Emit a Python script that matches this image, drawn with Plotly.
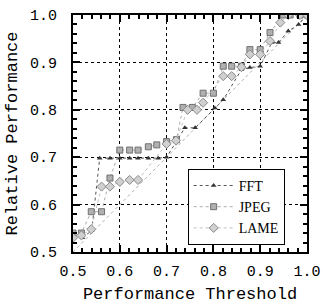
import plotly.graph_objects as go

# ---- data ----
fft_x = [0.52, 0.54, 0.557, 0.579, 0.60, 0.621, 0.639, 0.661, 0.682, 0.70,
         0.739, 0.761, 0.803, 0.821, 0.86, 0.878, 0.90, 0.925, 0.939, 0.96, 0.982, 1.0]
fft_y = [0.53, 0.545, 0.698, 0.698, 0.698, 0.698, 0.698, 0.698, 0.698, 0.70,
         0.762, 0.762, 0.804, 0.821, 0.885, 0.889, 0.892, 0.942, 0.942, 0.966, 0.98, 1.0]

jpeg_x = [0.50, 0.518, 0.539, 0.561, 0.579, 0.60, 0.621, 0.639, 0.661, 0.679, 0.70, 0.721,
          0.735, 0.755, 0.778, 0.80, 0.821, 0.839, 0.86, 0.878, 0.90, 0.921, 0.95, 0.964, 0.985, 1.0]
jpeg_y = [0.54, 0.54, 0.585, 0.585, 0.656, 0.715, 0.715, 0.715, 0.722, 0.726, 0.733, 0.737,
          0.805, 0.805, 0.835, 0.835, 0.892, 0.892, 0.892, 0.927, 0.927, 0.963, 1.0, 1.0, 1.0, 1.0]

lame_x = [0.50, 0.518, 0.539, 0.561, 0.579, 0.60, 0.621, 0.639, 0.70, 0.72,
          0.745, 0.765, 0.778, 0.821, 0.839, 0.86, 0.878, 0.90, 0.921, 0.943, 0.96, 0.985, 1.0]
lame_y = [0.53, 0.535, 0.548, 0.638, 0.638, 0.648, 0.652, 0.652, 0.728, 0.735,
          0.80, 0.80, 0.815, 0.871, 0.871, 0.89, 0.917, 0.917, 0.945, 0.984, 1.0, 1.0, 1.0]

diag = [0.5, 1.0]

x_ticks = [0.5, 0.6, 0.7, 0.8, 0.9, 1.0]
tick_text = ["0.5", "0.6", "0.7", "0.8", "0.9", "1.0"]

mono = "Liberation Mono"

fig = go.Figure()

fig.add_trace(go.Scatter(x=diag, y=diag, mode="lines",
                         line=dict(color="#999999", width=0.8, dash="dot"),
                         showlegend=False, hoverinfo="skip"))

fig.add_trace(go.Scatter(x=fft_x, y=fft_y, mode="lines+markers", name="FFT",
                         line=dict(color="#555555", width=1, dash="dot"),
                         marker=dict(symbol="triangle-up", size=5, color="#333333")))
fig.add_trace(go.Scatter(x=jpeg_x, y=jpeg_y, mode="lines+markers", name="JPEG",
                         line=dict(color="#aaaaaa", width=1, dash="dot"),
                         marker=dict(symbol="square", size=6, color="#b0b0b0",
                                     line=dict(color="#707070", width=1))))
fig.add_trace(go.Scatter(x=lame_x, y=lame_y, mode="lines+markers", name="LAME",
                         line=dict(color="#c0c0c0", width=1, dash="dot"),
                         marker=dict(symbol="diamond", size=7, color="#d0d0d0",
                                     line=dict(color="#8a8a8a", width=1))))

axis_common = dict(
    range=[0.5, 1.0], tickvals=x_ticks, ticktext=tick_text,
    showline=True, linecolor="black", linewidth=2, mirror="allticks",
    ticks="inside", ticklen=7, tickwidth=2, tickcolor="black",
    showgrid=True, gridcolor="black", griddash="dot", gridwidth=1,
    zeroline=False,
    tickfont=dict(family=mono, size=15, color="black"),
    minor=dict(dtick=0.02, ticks="inside", ticklen=4, tickwidth=1.5,
               tickcolor="black", showgrid=False),
)

fig.update_xaxes(**axis_common, ticklabelstandoff=4,
                 title=dict(text="Performance Threshold",
                            font=dict(family=mono, size=17, color="black"),
                            standoff=12))
fig.update_yaxes(**axis_common, ticklabelstandoff=11,
                 title=dict(text="Relative Performance",
                            font=dict(family=mono, size=17, color="black"),
                            standoff=8))

fig.update_layout(
    width=323, height=304,
    margin=dict(l=73, r=16, t=15, b=52, autoexpand=False),
    paper_bgcolor="white", plot_bgcolor="white",
    legend=dict(x=0.49, y=0.03, xanchor="left", yanchor="bottom",
                bgcolor="white", bordercolor="black", borderwidth=1,
                font=dict(family="Liberation Serif", size=14, color="black"),
                itemwidth=40, tracegroupgap=0),
)

fig.write_html("out.html", config={"displayModeBar": False},
               post_script="document.body.style.margin='0';document.body.style.overflow='hidden';")
